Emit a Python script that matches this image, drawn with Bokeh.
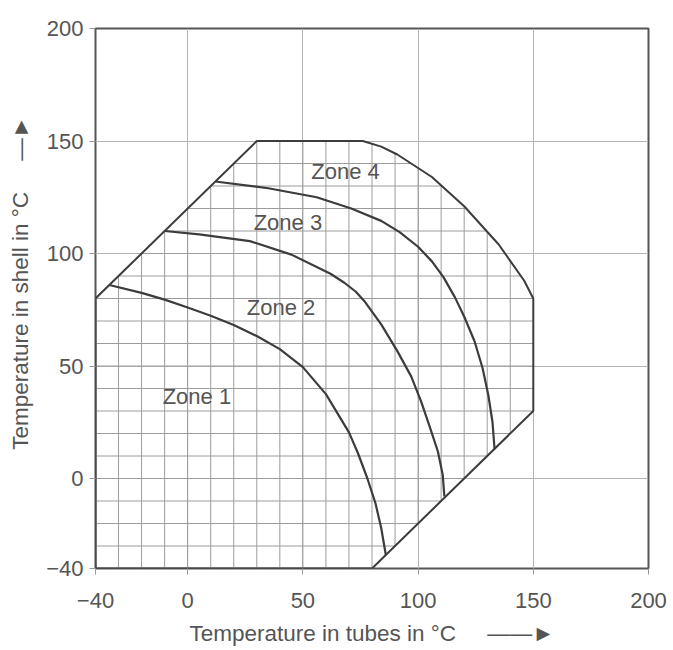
import numpy as np
from bokeh.plotting import figure
from bokeh.models import Range1d, FixedTicker, ColumnDataSource
from bokeh.core.properties import value
from bokeh.embed import file_html
from bokeh.resources import INLINE

# ---- data ----
axis_ticks = [-40, 0, 50, 100, 150, 200]
grid_ticks = [0, 50, 100, 150]
fine_ticks = [-30, -20, -10, 0, 10, 20, 30, 40, 50, 60, 70, 80, 90, 100, 110, 120, 130, 140]

# envelope of the permitted region
outer_x = [76, 84, 91, 106, 120, 135, 146, 150]
outer_y = [150, 147.5, 144, 134, 121, 104, 88, 80]
env_x = [-40, -40, 30] + outer_x + [150, 80, -40]
env_y = [-40, 80, 150] + outer_y + [30, -40, -40]

# zone boundaries
curve1_x = [-34, -20, -10, 0, 10, 20, 30, 40, 50, 60, 70, 74, 78, 81.5, 84, 86]
curve1_y = [86, 82.5, 79.5, 76, 72.3, 68.2, 63.3, 57.5, 49.5, 37.5, 20.5, 11, 0, -11, -22, -34]
curve2_x = [-10, 5, 27, 45, 58, 62, 68, 73, 76.7, 84, 91, 97, 101.3, 105, 108.6, 110.7, 111.4]
curve2_y = [110, 108.5, 105.5, 99.5, 93, 91, 87, 83, 78.8, 68.5, 56.6, 45.4, 34.3, 23.2, 12, 1.6, -8]
curve3_x = [12, 35, 56, 71, 84, 92, 100, 106, 111, 116, 120, 124.5, 128, 130.5, 132.3, 133.2]
curve3_y = [132, 129, 125, 120, 114.5, 109.5, 103, 96.5, 89.5, 80.5, 72, 61, 49, 37, 25, 13]

zone_names = ["Zone 1", "Zone 2", "Zone 3", "Zone 4"]
zone_x = [4, 40.5, 43.5, 68.5]
zone_y = [36.5, 76, 114, 136.5]

x_title = "Temperature in tubes in \u00b0C"
y_title = "Temperature in shell in \u00b0C"

FONT = "Liberation Sans"
TXT = "#555555"
LINE = "#3c3c3c"
NB = "\u00a0"

p = figure(width=673, height=650, x_range=Range1d(-40, 200), y_range=Range1d(-40, 200),
           output_backend="svg", toolbar_location=None,
           min_border_left=95, min_border_right=25, min_border_top=28, min_border_bottom=82)
p.outline_line_color = "#555555"
p.outline_line_width = 2
p.background_fill_color = "white"

for ax in (p.xaxis[0], p.yaxis[0]):
    ax.ticker = FixedTicker(ticks=axis_ticks)
    ax.major_label_overrides = {-40: "\u221240"}
    ax.axis_line_color = None
    ax.major_tick_line_color = "#999999"
    ax.major_tick_in = 0
    ax.major_tick_out = 6
    ax.minor_tick_line_color = None
    ax.major_label_text_font = FONT
    ax.major_label_text_font_size = "22px"
    ax.major_label_text_color = TXT
    ax.axis_label_text_font = FONT
    ax.axis_label_text_font_size = "22.5px"
    ax.axis_label_text_font_style = "normal"
    ax.axis_label_text_color = TXT
p.xaxis.major_label_standoff = 18
p.yaxis.major_label_standoff = 6
p.xaxis.axis_label_standoff = 10
p.yaxis.axis_label_standoff = 10
p.xaxis.axis_label = x_title + NB * 5 + "\u2014\u2014\u25ba"
p.yaxis.axis_label = NB * 5 + y_title + NB * 5 + "\u2014\u25ba"

p.xgrid.ticker = FixedTicker(ticks=grid_ticks)
p.ygrid.ticker = FixedTicker(ticks=grid_ticks)
p.grid.grid_line_color = "#b4b4b4"
p.grid.grid_line_width = 1

# fine grid clipped to the envelope
vx0, vy0, vx1, vy1 = [], [], [], []
for g in fine_ticks:
    lo = max(-40, g - 120)
    hi = 150 if g <= outer_x[0] else float(np.interp(g, outer_x, outer_y))
    hi = min(hi, g + 120)
    vx0.append(g); vx1.append(g); vy0.append(lo); vy1.append(hi)
hx0, hy0, hx1, hy1 = [], [], [], []
for g in fine_ticks:
    lo = max(-40, g - 120)
    if g <= outer_y[-1]:
        hi = min(150, g + 120)
    else:
        hi = float(np.interp(g, outer_y[::-1], outer_x[::-1]))
    hx0.append(lo); hx1.append(hi); hy0.append(g); hy1.append(g)
p.segment(vx0, vy0, vx1, vy1, line_color="#9c9c9c", line_width=1)
p.segment(hx0, hy0, hx1, hy1, line_color="#9c9c9c", line_width=1)

p.line(env_x, env_y, line_color=LINE, line_width=2)
for cx, cy in ((curve1_x, curve1_y), (curve2_x, curve2_y), (curve3_x, curve3_y)):
    p.line(cx, cy, line_color=LINE, line_width=2.2, line_join="round")

src = ColumnDataSource(dict(x=zone_x, y=zone_y, t=zone_names))
p.text(x="x", y="y", text="t", source=src, text_font=value(FONT), text_font_size="22px",
       text_color=TXT, text_align="center", text_baseline="middle")

open("out.html", "w").write(file_html(p, INLINE))
